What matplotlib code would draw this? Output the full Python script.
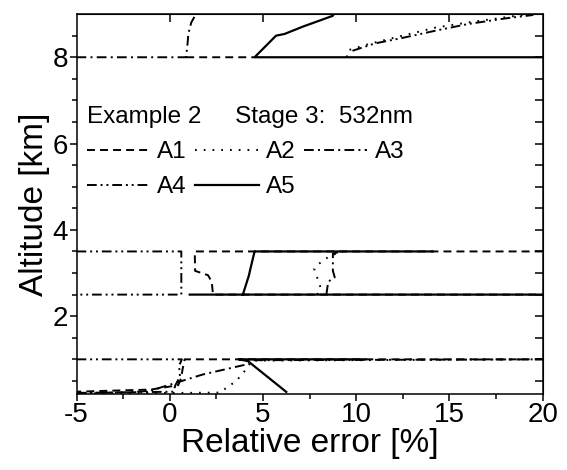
import numpy as np
import matplotlib
matplotlib.use("Agg")
import matplotlib.pyplot as plt

plt.rcParams['font.family'] = ['Liberation Sans', 'DejaVu Sans']
plt.rcParams['axes.unicode_minus'] = False

nan = np.nan

# relative error profiles [%] vs altitude [km]; nan splits the layers
a1_x = [0.88, 4.55, nan, 20.0, 1.34, 1.36, 2.05, 2.25, 2.32, 20.0, nan,
        20.0, 0.80, 0.70, 0.60, 0.45, -1.0, -5.0]
a1_y = [8.0, 8.0, nan, 3.5, 3.5, 3.05, 2.95, 2.8, 2.5, 2.5, nan,
        1.0, 1.0, 0.8, 0.55, 0.4, 0.3, 0.25]

a2_x = [9.5, 9.55, 10.71, 12.49, 14.28, 16.06, 18.57, 19.2, nan,
        7.9, 8.1, 7.75, 8.1, 8.6, 9.3, nan,
        -5.0, 0.3, 2.68, 3.57, 4.1, 4.4, 20.0]
a2_y = [8.0, 8.16, 8.31, 8.5, 8.69, 8.81, 8.96, 9.0, nan,
        2.5, 2.65, 3.1, 3.25, 3.4, 3.5, nan,
        0.21, 0.22, 0.23, 0.5, 0.77, 0.97, 1.0]

a3_x = [-5.0, 0.88, 0.95, 1.0, 1.15, 1.4, nan,
        8.4, 8.5, 8.85, 8.75, 8.75, 9.2, nan,
        -5.0, -2.0, -1.07, 0.36, 1.78, 4.1, 4.5, 20.0]
a3_y = [8.0, 8.0, 8.3, 8.55, 8.8, 9.0, nan,
        2.5, 2.8, 2.9, 3.05, 3.45, 3.5, nan,
        0.22, 0.24, 0.27, 0.46, 0.65, 0.88, 0.98, 1.0]

a4_x = [9.8, 11.0, 12.5, 14.3, 16.0, 18.0, 19.5, nan,
        -5.0, 0.62, 0.62, -5.0, nan,
        -5.0, 0.65, 0.5, 0.55, 0.3, 0.2, -5.0]
a4_y = [8.15, 8.32, 8.45, 8.62, 8.77, 8.9, 8.98, nan,
        3.5, 3.5, 2.5, 2.5, nan,
        1.0, 1.0, 0.85, 0.6, 0.4, 0.25, 0.22]

a5_x = [20.0, 4.55, 5.7, 6.16, 7.14, 8.74, 8.8, nan,
        1.07, 20.0, nan, 3.92, 4.25, 4.3, 4.55, 14.1, nan,
        10.5, 3.7, 4.19, 6.25]
a5_y = [8.0, 8.0, 8.5, 8.54, 8.71, 8.96, 9.0, nan,
        2.5, 2.5, nan, 2.5, 2.95, 3.05, 3.5, 3.5, nan,
        1.0, 1.0, 0.96, 0.245]

series = [("A1", a1_x, a1_y, (4.1, 2.6)),
          ("A2", a2_x, a2_y, (0.9, 3.6)),
          ("A3", a3_x, a3_y, (5, 2.2, 1, 2.2)),
          ("A4", a4_x, a4_y, (5, 2, 1, 2, 1, 2)),
          ("A5", a5_x, a5_y, None)]

fig = plt.figure(figsize=(5.67, 4.70), dpi=100)
ax = fig.add_axes([0.135, 0.162, 0.822, 0.808])

handles = {}
for name, xs, ys, dash in series:
    if dash is None:
        ln, = ax.plot(xs, ys, color='black', lw=1.6, label=name)
    else:
        ln, = ax.plot(xs, ys, color='black', lw=1.4, dashes=dash, label=name)
    handles[name] = ln

ax.set_xlim(-5, 20)
ax.set_ylim(0.2, 9)
ax.set_xticks(np.arange(-5, 21, 5))
ax.set_xticks(np.arange(-2.5, 20, 5), minor=True)
ax.set_yticks([2, 4, 6, 8])
ax.set_yticks(np.arange(0.5, 9, 0.5), minor=True)
ax.tick_params(which='major', direction='out', length=5, width=1.1, labelsize=20, pad=1)
ax.tick_params(which='minor', direction='out', length=3.5, width=1.1)
for s in ax.spines.values():
    s.set_linewidth(1.1)

top = ax.secondary_xaxis('top')
top.set_xticks([0, 5, 10, 15])
top.tick_params(direction='in', length=5.5, width=1.1, labeltop=False)
right = ax.secondary_yaxis('right')
right.set_yticks(np.arange(0.5, 9, 0.5))
right.tick_params(direction='in', length=5.5, width=1.1, labelright=False)

ax.set_xlabel("Relative error [%]", fontsize=24, labelpad=0)
ax.set_ylabel("Altitude [km]", fontsize=24, labelpad=2)

# column-wise fill: A1/A4, A2/A5, A3
order = ["A1", "A4", "A2", "A5", "A3"]
ax.legend([handles[n] for n in order], order, ncol=3, loc='upper left',
          bbox_to_anchor=(0.022, 0.757), frameon=False, fontsize=17.5,
          title="Example 2     Stage 3:  532nm", title_fontsize=17.5,
          alignment='left', borderpad=0, borderaxespad=0,
          handlelength=2.6, handletextpad=0.3, columnspacing=0.35,
          labelspacing=0.53)

fig.savefig("out.png", dpi=100)
